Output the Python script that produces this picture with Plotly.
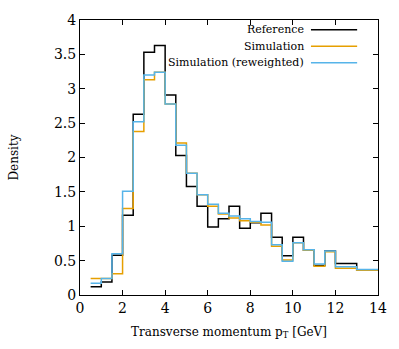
import plotly.graph_objects as go

# Data
bin_edges = [0.5, 1.0, 1.5, 2.0, 2.5, 3.0, 3.5, 4.0, 4.5, 5.0, 5.5, 6.0, 6.5, 7.0,
             7.5, 8.0, 8.5, 9.0, 9.5, 10.0, 10.5, 11.0, 11.5, 12.0, 12.5, 13.0, 13.5, 14.0]
reference = [0.12, 0.19, 0.58, 1.16, 2.63, 3.53, 3.63, 2.91, 2.03, 1.58, 1.29, 0.99, 1.11, 1.29,
             0.97, 1.05, 1.19, 0.84, 0.57, 0.84, 0.65, 0.43, 0.64, 0.46, 0.46, 0.36, 0.36]
simulation = [0.24, 0.24, 0.31, 1.26, 2.38, 3.13, 3.24, 2.78, 2.21, 1.77, 1.46, 1.29, 1.18, 1.12,
              1.08, 1.06, 1.02, 0.71, 0.51, 0.76, 0.65, 0.42, 0.63, 0.39, 0.39, 0.36, 0.36]
reweighted = [0.17, 0.24, 0.60, 1.51, 2.52, 3.20, 3.24, 2.78, 2.18, 1.77, 1.46, 1.32, 1.19, 1.15,
              1.11, 1.07, 1.06, 0.73, 0.49, 0.76, 0.66, 0.45, 0.64, 0.41, 0.41, 0.37, 0.37]
series_names = ["Reference", "Simulation", "Simulation (reweighted)"]
series_colors = ["#000000", "#E69F00", "#56B4E9"]
x_ticks = [0, 2, 4, 6, 8, 10, 12, 14]
y_ticks = [0, 0.5, 1, 1.5, 2, 2.5, 3, 3.5, 4]
y_tick_text = ["0", "0.5", "1", "1.5", "2", "2.5", "3", "3.5", "4"]

fig = go.Figure()
for name, vals, col in zip(series_names, [reference, simulation, reweighted], series_colors):
    fig.add_trace(go.Scatter(
        x=bin_edges, y=vals + [vals[-1]], mode="lines", line_shape="hv",
        line=dict(color=col, width=1.5), name=name, showlegend=False))

font = "DejaVu Serif"
# manual legend: text then line sample (gnuplot style)
leg_y = [0.965, 0.905, 0.845]
for name, col, ly in zip(series_names, series_colors, leg_y):
    fig.add_annotation(xref="paper", yref="paper", x=0.76, y=ly, text=name,
                       showarrow=False, xanchor="right", yanchor="middle",
                       font=dict(family=font, size=11, color="black"))
    fig.add_shape(type="line", xref="paper", yref="paper", x0=0.775, x1=0.93,
                  y0=ly, y1=ly, line=dict(color=col, width=1.5))

axis_common = dict(showline=True, linecolor="black", linewidth=1, mirror="ticks",
                   ticks="inside", ticklen=5, tickcolor="black", showgrid=False,
                   zeroline=False, tickfont=dict(family=font, size=14, color="black"))
fig.update_xaxes(range=[0, 14], tickvals=x_ticks,
                 title=dict(text="Transverse momentum p<sub>T</sub> [GeV]",
                            font=dict(family=font, size=12, color="black"), standoff=12),
                 **axis_common)
fig.update_yaxes(range=[0, 4], tickvals=y_ticks, ticktext=y_tick_text,
                 title=dict(text="Density", font=dict(family=font, size=12, color="black"),
                            standoff=32),
                 **axis_common)
fig.update_layout(width=399, height=349, margin=dict(l=80, r=12, t=13, b=54),
                  plot_bgcolor="white", paper_bgcolor="white", showlegend=False)
fig.write_html("out.html")
